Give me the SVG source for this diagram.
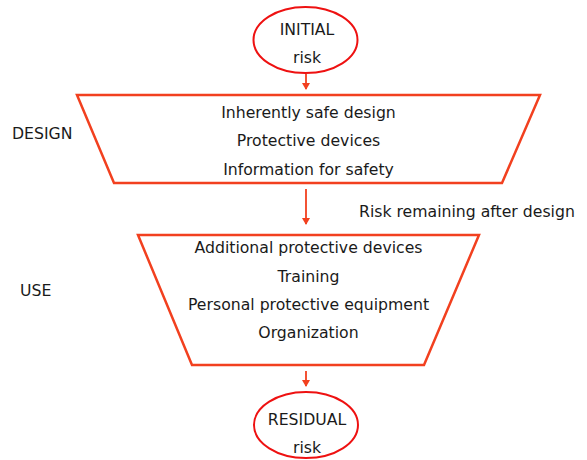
<svg xmlns="http://www.w3.org/2000/svg" width="587" height="460" viewBox="0 0 587 460">
<defs>
<style>
text{font-family:"DejaVu Sans","Noto Sans",sans-serif;font-size:15.7px;fill:#1a1a1a}
.c{text-anchor:middle}
.ell{fill:#fff;stroke:#ee1111;stroke-width:2}
.trap{fill:#fff;stroke:#f2401f;stroke-width:2.5}
.con{stroke:#f2401f;stroke-width:1.8;fill:none}
</style>
<marker id="ah" markerWidth="8" markerHeight="8" refX="6" refY="4" orient="auto" markerUnits="userSpaceOnUse">
<path d="M0,0 L7,4 L0,8 z" fill="#f2401f"/>
</marker>
</defs>
<rect width="587" height="460" fill="#fff"/>
<g id="connectors">
<line class="con" x1="306" y1="74" x2="306" y2="89" marker-end="url(#ah)"/>
<line class="con" x1="306" y1="189" x2="306" y2="224" marker-end="url(#ah)"/>
<line class="con" x1="306" y1="371" x2="306" y2="386" marker-end="url(#ah)"/>
<text x="359" y="217">Risk remaining after design</text>
</g>
<g id="initial">
<ellipse class="ell" cx="305.5" cy="40" rx="52" ry="33"/>
<text class="c" x="307" y="35">INITIAL</text>
<text class="c" x="307" y="63">risk</text>
</g>
<g id="design">
<polygon class="trap" points="77,95 540,95 502,183 114,183"/>
<text class="c" x="308.5" y="118">Inherently safe design</text>
<text class="c" x="308.5" y="146">Protective devices</text>
<text class="c" x="308.5" y="175">Information for safety</text>
</g>
<g id="design-label"><text x="12" y="139">DESIGN</text></g>
<g id="use">
<polygon class="trap" points="138,235 479,235 424,365 192,365"/>
<text class="c" x="308.5" y="253">Additional protective devices</text>
<text class="c" x="308.5" y="282">Training</text>
<text class="c" x="308.5" y="310">Personal protective equipment</text>
<text class="c" x="308.5" y="338">Organization</text>
</g>
<g id="use-label"><text x="20" y="296">USE</text></g>
<g id="residual">
<ellipse class="ell" cx="306" cy="425" rx="52" ry="33"/>
<text class="c" x="307" y="425">RESIDUAL</text>
<text class="c" x="307" y="453">risk</text>
</g>
</svg>
